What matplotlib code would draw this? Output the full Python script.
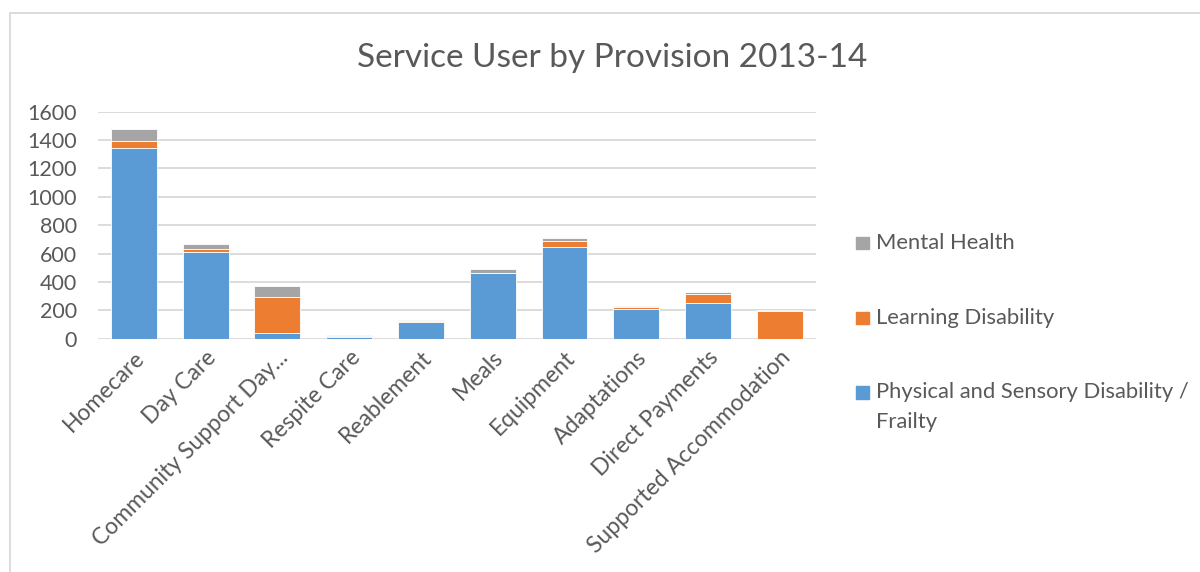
import matplotlib.pyplot as plt
from matplotlib.patches import Rectangle
import numpy as np

plt.rcParams['font.family'] = ['Lato', 'DejaVu Sans']

categories = ["Homecare", "Day Care", "Community Support Day...", "Respite Care",
              "Reablement", "Meals", "Equipment", "Adaptations",
              "Direct Payments", "Supported Accommodation"]
physical = [1341, 614, 38, 10, 119, 460, 648, 209, 248, 0]
learning = [54, 17, 258, 9, 3, 4, 42, 12, 69, 193]
mental = [83, 35, 76, 5, 9, 30, 18, 6, 14, 7]

series_names = ["Physical and Sensory Disability /\nFrailty", "Learning Disability", "Mental Health"]
colors = ["#5B9BD5", "#ED7D31", "#A5A5A5"]
text_col = "#595959"

fig = plt.figure(figsize=(12, 5.72), dpi=100)
ax = fig.add_axes([0.0817, 0.408, 0.598, 0.3968])

x = np.arange(len(categories))
bottom = np.zeros(len(categories))
for vals, col in zip([physical, learning, mental], colors):
    ax.bar(x, vals, width=0.64, bottom=bottom, color=col, edgecolor="white",
           linewidth=0.6, zorder=3)
    bottom += np.array(vals)

ax.set_xlim(-0.5, len(categories) - 0.5)
ax.set_ylim(0, 1600)
ax.set_yticks(range(0, 1601, 200))
ax.yaxis.grid(True, color="#D9D9D9", linewidth=1.3, zorder=0)
for s in ax.spines.values():
    s.set_visible(False)
ax.tick_params(axis="both", length=0, colors=text_col, labelsize=15.5)
ax.tick_params(axis="y", pad=15)
ax.tick_params(axis="x", pad=6)
ax.set_xticks(x)
ax.set_xticklabels(categories, rotation=45, ha="right", rotation_mode="anchor",
                   fontsize=16.5)

fig.text(0.51, 0.898, "Service User by Provision 2013-14", ha="center",
         va="center", fontsize=24, color=text_col)

# legend drawn by hand so the swatch sits on the first line of each label
legend_y = [0.575, 0.444, 0.314]
for name, col, ly in zip(series_names[::-1], colors[::-1], legend_y):
    fig.patches.append(Rectangle((0.7135, ly - 0.011), 0.0105, 0.022,
                                 transform=fig.transFigure, color=col))
    fig.text(0.730, ly, name.split("\n")[0], va="center", fontsize=15.8,
             color=text_col)
    if "\n" in name:
        fig.text(0.730, ly - 0.052, name.split("\n")[1], va="center",
                 fontsize=15.8, color=text_col)

# chart frame
fig.patches.append(Rectangle((0.0085, -0.05), 1.2, 1.028, transform=fig.transFigure,
                             fill=False, edgecolor="#D9D9D9", linewidth=1.3))

fig.savefig("out.png", dpi=100)
